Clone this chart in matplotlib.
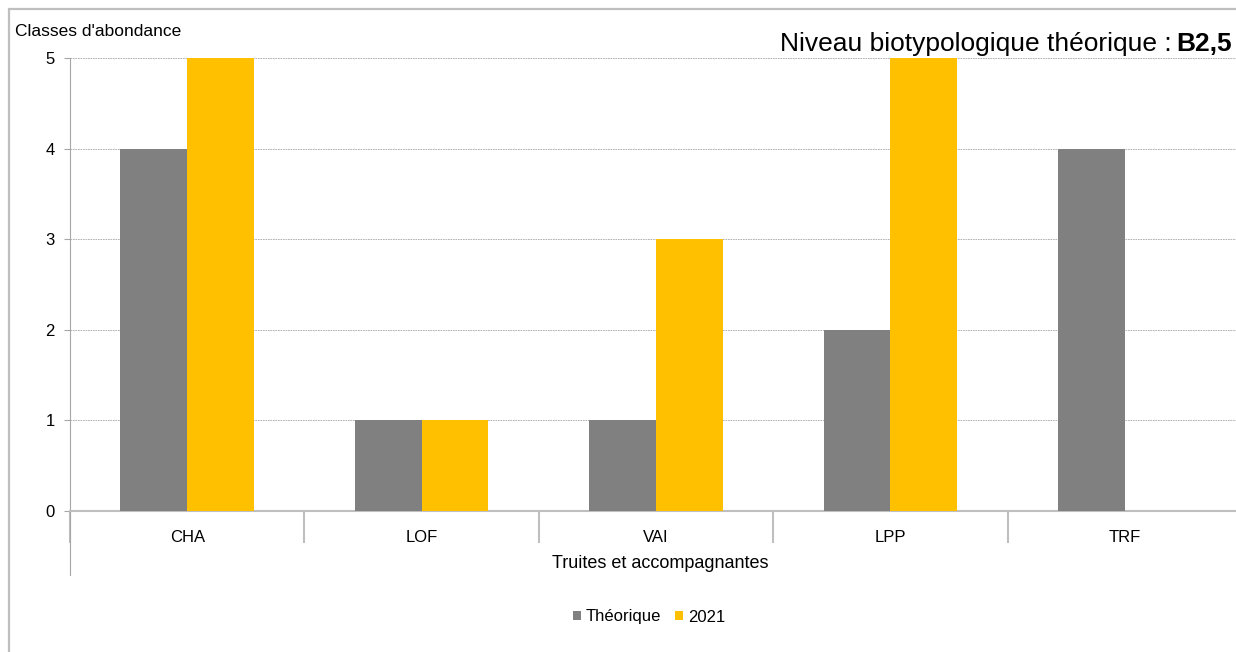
import matplotlib.pyplot as plt
import numpy as np
from matplotlib.patches import Rectangle
from matplotlib.lines import Line2D

plt.rcParams['font.family'] = ['Liberation Sans', 'DejaVu Sans']

especes = ['CHA', 'LOF', 'VAI', 'LPP', 'TRF']
theorique = [4, 1, 1, 2, 4]
annee_2021 = [5, 1, 3, 5, 0]
gris = '#808080'
jaune = '#FFC000'

W, H = 1236, 652
fig = plt.figure(figsize=(W / 100, H / 100), dpi=100)

# cadre du graphique
fig.patches.append(Rectangle((9 / W, -0.1), 1.1, (H - 9) / H + 0.1, transform=fig.transFigure,
                             fill=False, edgecolor='#BFBFBF', linewidth=1.6))

# axes en pixels : gauche 70, droite 1242, haut 58, bas 511
ax = fig.add_axes([70 / W, 1 - 511 / H, (1242 - 70) / W, (511 - 58) / H])

x = np.arange(len(especes))
largeur = 0.285
ax.bar(x - largeur / 2, theorique, largeur, color=gris, label='Théorique', zorder=3)
ax.bar(x + largeur / 2, annee_2021, largeur, color=jaune, label='2021', zorder=3)

ax.set_xlim(-0.5, len(especes) - 0.5)
ax.set_ylim(0, 5)
ax.set_yticks(range(0, 6))
ax.yaxis.grid(True, linestyle=(0, (2, 1)), color='#A6A6A6', linewidth=0.6)
ax.set_axisbelow(True)

for s in ['top', 'right']:
    ax.spines[s].set_visible(False)
ax.spines['left'].set_color('#A6A6A6')
ax.spines['bottom'].set_color('#BFBFBF')
ax.spines['bottom'].set_linewidth(1.5)

ax.set_xticks(x)
ax.set_xticklabels(especes)
ax.set_xticks(np.arange(-0.5, len(especes) + 0.5, 1), minor=True)
ax.tick_params(axis='x', which='major', length=0, pad=14, labelsize=12)
ax.tick_params(axis='x', which='minor', length=23, color='#BFBFBF', width=1.5)
ax.tick_params(axis='y', length=4, color='#A6A6A6', pad=7, labelsize=12)

# prolongement de l'axe vertical sous l'axe horizontal
ax.add_line(Line2D([0, 0], [0, -64 / 453], transform=ax.transAxes, color='#A6A6A6',
                   linewidth=0.8, clip_on=False))

fig.text(15 / W, 1 - 32 / H, "Classes d'abondance", fontsize=12.5, va='center', ha='left')

# titre : partie normale + partie en gras
t_gras = fig.text(1232 / W, 1 - 51 / H, 'B2,5', fontsize=19, fontweight='bold',
                  va='baseline', ha='right')
fig.canvas.draw()
bb = t_gras.get_window_extent()
fig.text((bb.x0 - 5) / W, 1 - 51 / H, 'Niveau biotypologique théorique :', fontsize=19,
         va='baseline', ha='right')

fig.text(660 / W, 1 - 564 / H, 'Truites et accompagnantes', fontsize=13, va='center', ha='center')

fig.legend(loc='center', bbox_to_anchor=(649 / W, 1 - 617 / H), ncol=2, frameon=False,
           fontsize=12, handlelength=0.5, handleheight=0.5, handletextpad=0.3, columnspacing=0.8)

fig.savefig('out.png', dpi=100)
